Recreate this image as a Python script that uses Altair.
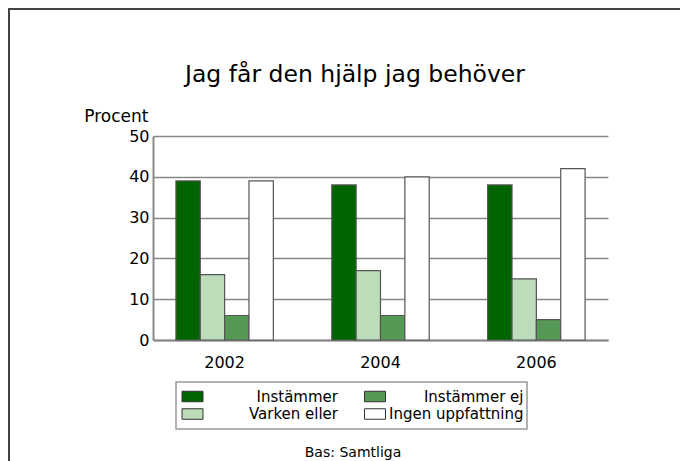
import altair as alt
import pandas as pd

# ---- data -------------------------------------------------------------
years = ["2002", "2004", "2006"]
categories = ["Instämmer", "Varken eller", "Instämmer ej", "Ingen uppfattning"]
instammer = [39, 38, 38]
varken_eller = [16, 17, 15]
instammer_ej = [6, 6, 5]
ingen_uppfattning = [39, 40, 42]
colors = ["#006400", "#bddcba", "#559955", "#ffffff"]
legend_order = ["Instämmer", "Instämmer ej", "Varken eller", "Ingen uppfattning"]
y_ticks = [0, 10, 20, 30, 40, 50]

chart_title = "Jag får den hjälp jag behöver"
y_title = "Procent"
footnote = "Bas: Samtliga"
FONT = "DejaVu Sans"

series = dict(zip(categories, [instammer, varken_eller, instammer_ej, ingen_uppfattning]))
rows = []
for cat, vals in series.items():
    for yr, v in zip(years, vals):
        rows.append({"year": yr, "category": cat, "value": v})
df = pd.DataFrame(rows)

leg = pd.DataFrame({
    "category": legend_order,
    "col": [i % 2 for i in range(len(legend_order))],
    "row": [i // 2 for i in range(len(legend_order))],
})

color_scale = alt.Scale(domain=categories, range=colors)

bars = alt.Chart(df).mark_bar(stroke="#555555", strokeWidth=1.2).encode(
    x=alt.X(
        "year:N", sort=years, title=None,
        scale=alt.Scale(paddingInner=0.375, paddingOuter=0.147),
        axis=alt.Axis(labelAngle=0, ticks=False, domainColor="#888888", domainWidth=2,
                      labelPadding=14, labelFontSize=16, labelColor="black", grid=False),
    ),
    xOffset=alt.XOffset("category:N", sort=categories,
                        scale=alt.Scale(paddingInner=0, paddingOuter=0)),
    y=alt.Y(
        "value:Q", scale=alt.Scale(domain=[0, 50]),
        axis=alt.Axis(values=y_ticks, title=y_title, titleAngle=0, titleAlign="right",
                      titleBaseline="alphabetic", titleX=-5, titleY=-15, titleFontSize=17,
                      titleFontWeight="normal", titleColor="black",
                      ticks=False, labelPadding=4, labelFontSize=16, labelColor="black",
                      grid=True, gridColor="#888888", gridWidth=1.5,
                      domainColor="#888888", domainWidth=2),
    ),
    color=alt.Color("category:N", scale=color_scale, legend=None),
)

legend_box = alt.Chart(pd.DataFrame({"k": [0]})).mark_rect(
    fillOpacity=0, stroke="#999999", strokeWidth=1.5
).encode(x=alt.value(23), x2=alt.value(374), y=alt.value(246), y2=alt.value(293))

swatches = alt.Chart(leg).mark_point(
    shape="M-1,-0.5H1V0.5H-1Z", size=441, filled=True, opacity=1,
    stroke="#333333", strokeWidth=1
).encode(
    x=alt.X("col:Q", scale=alt.Scale(domain=[0, 1], range=[39.5, 222]), axis=None),
    y=alt.Y("row:Q", scale=alt.Scale(domain=[0, 1], range=[260.5, 278]), axis=None),
    color=alt.Color("category:N", scale=color_scale, legend=None),
)

labels = alt.Chart(leg).mark_text(
    align="right", baseline="middle", fontSize=15, font=FONT, color="black"
).encode(
    x=alt.X("col:Q", scale=alt.Scale(domain=[0, 1], range=[185, 370.5]), axis=None),
    y=alt.Y("row:Q", scale=alt.Scale(domain=[0, 1], range=[260.5, 278]), axis=None),
    text="category:N",
)

title_mark = alt.Chart(pd.DataFrame({"t": [chart_title]})).mark_text(
    align="center", baseline="alphabetic", fontSize=23.5, font=FONT, color="black"
).encode(x=alt.value(202), y=alt.value(-54), text="t:N")

one = pd.DataFrame({"t": [footnote]})
foot = alt.Chart(one).mark_text(
    align="center", baseline="alphabetic", fontSize=14, font=FONT, color="black"
).encode(x=alt.value(200), y=alt.value(321), text="t:N")

frame_top = alt.Chart(one).mark_rule(color="#444444", strokeWidth=2).encode(
    x=alt.value(-145), x2=alt.value(540), y=alt.value(-127))
frame_left = alt.Chart(one).mark_rule(color="#444444", strokeWidth=2).encode(
    x=alt.value(-144), y=alt.value(-128), y2=alt.value(330))

chart = alt.layer(
    bars, legend_box, swatches, labels, title_mark, foot, frame_top, frame_left
).resolve_scale(
    x="independent", y="independent"
).properties(
    width=455, height=204,
    autosize=alt.AutoSizeParams(type="none"),
    padding={"left": 145, "top": 128, "right": 72, "bottom": 121},
).configure(
    font=FONT
).configure_view(
    stroke=None
)

chart.save("out.html", embed_options={"renderer": "svg", "actions": False})
